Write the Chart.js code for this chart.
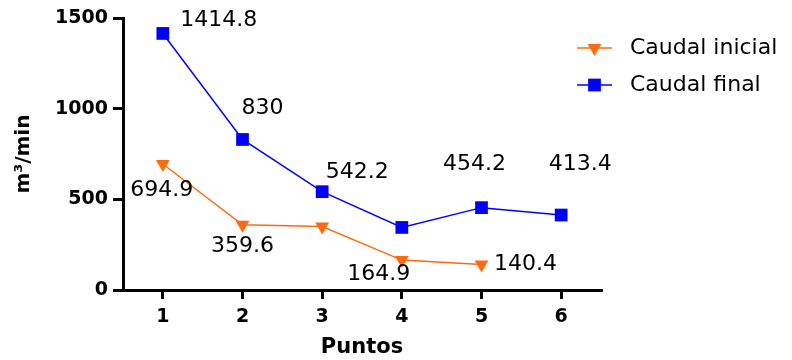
<!DOCTYPE html>
<html>
<head>
<meta charset="utf-8">
<script src="https://cdn.jsdelivr.net/npm/chart.js@4/dist/chart.umd.min.js"></script>
<style>
  html, body { margin: 0; padding: 0; background: #fff; }
  #wrap { width: 792px; height: 360px; }
</style>
</head>
<body>
<div id="wrap"><canvas id="chart" width="792" height="360"></canvas></div>
<script>
// data
const puntos = ["1", "2", "3", "4", "5", "6"];
const caudalInicial = [694.9, 359.6, 350, 164.9, 140.4, null];
const caudalFinal = [1414.8, 830, 542.2, 345, 454.2, 413.4];
const labelsInicial = ["694.9", "359.6", "", "164.9", "140.4", ""];
const labelsFinal = ["1414.8", "830", "542.2", "", "454.2", "413.4"];
const yTicks = [0, 500, 1000, 1500];

// where each value label sits relative to its point
const offsetsInicial = [[-1, 26], [0, 21], null, [-23, 14], [44, 0], null];
const offsetsFinal = [[56, -13], [20, -31], [35, -19], null, [-7, -43], [19, -51]];

const ORANGE = "#FF6A10";
const BLUE = "#0000FF";
const FONT = "'DejaVu Sans', sans-serif";

// value labels next to the markers
const valueLabels = {
  id: "valueLabels",
  afterDatasetsDraw(chart) {
    const ctx = chart.ctx;
    ctx.save();
    ctx.font = "22px " + FONT;
    ctx.fillStyle = "#000";
    ctx.textAlign = "center";
    ctx.textBaseline = "middle";
    chart.data.datasets.forEach((ds, i) => {
      const meta = chart.getDatasetMeta(i);
      meta.data.forEach((pt, j) => {
        const off = ds.labelOffsets[j];
        if (!off || !ds.valueLabels[j]) return;
        ctx.fillText(ds.valueLabels[j], pt.x + off[0], pt.y + off[1]);
      });
    });
    ctx.restore();
  },
};

// legend with a short line through the marker
const sideLegend = {
  id: "sideLegend",
  afterDraw(chart) {
    const ctx = chart.ctx;
    ctx.save();
    chart.data.datasets.forEach((ds, i) => {
      const y = 48 + i * 37;
      ctx.strokeStyle = ds.borderColor;
      ctx.lineWidth = 1.5;
      ctx.beginPath();
      ctx.moveTo(577, y);
      ctx.lineTo(612, y);
      ctx.stroke();
      ctx.fillStyle = ds.backgroundColor;
      Chart.helpers.drawPoint(ctx, {
        pointStyle: ds.pointStyle,
        radius: ds.pointRadius,
        rotation: ds.pointRotation || 0,
        borderWidth: 0,
      }, 594.5, y);
      ctx.fillStyle = "#000";
      ctx.font = "22px " + FONT;
      ctx.textBaseline = "middle";
      ctx.textAlign = "left";
      ctx.fillText(ds.label, 630, y);
    });
    ctx.restore();
  },
};

const ctx = document.getElementById("chart").getContext("2d");

new Chart(ctx, {
  type: "line",
  data: {
    labels: puntos,
    datasets: [
      {
        label: "Caudal inicial",
        data: caudalInicial,
        borderColor: ORANGE,
        backgroundColor: ORANGE,
        borderWidth: 1.5,
        pointStyle: "triangle",
        pointRotation: 180,
        pointRadius: 8,
        pointBorderWidth: 0,
        valueLabels: labelsInicial,
        labelOffsets: offsetsInicial,
      },
      {
        label: "Caudal final",
        data: caudalFinal,
        borderColor: BLUE,
        backgroundColor: BLUE,
        borderWidth: 1.5,
        pointStyle: "rect",
        pointRadius: 9,
        pointBorderWidth: 0,
        valueLabels: labelsFinal,
        labelOffsets: offsetsFinal,
      },
    ],
  },
  options: {
    responsive: false,
    animation: false,
    layout: { padding: { top: 18, right: 191, left: 0, bottom: 0 } },
    plugins: {
      legend: { display: false },
      tooltip: { enabled: false },
    },
    scales: {
      x: {
        offset: true,
        grid: {
          display: true,
          drawOnChartArea: false,
          drawTicks: true,
          tickLength: 9,
          color: "#000",
          lineWidth: 3,
          offset: false,
        },
        border: { color: "#000", width: 3 },
        ticks: {
          color: "#000",
          padding: 7,
          font: { family: FONT, size: 19, weight: "bold" },
        },
        title: {
          display: true,
          text: "Puntos",
          color: "#000",
          padding: { top: 4, bottom: 0 },
          font: { family: FONT, size: 21, weight: "bold" },
        },
        afterFit(scale) {
          scale.height = 70;
        },
      },
      y: {
        min: 0,
        max: 1500,
        afterBuildTicks(scale) {
          scale.ticks = yTicks.map((v) => ({ value: v }));
        },
        grid: {
          display: true,
          drawOnChartArea: false,
          drawTicks: true,
          tickLength: 10,
          color: "#000",
          lineWidth: 3,
        },
        border: { color: "#000", width: 3 },
        ticks: {
          color: "#000",
          padding: 5,
          font: { family: FONT, size: 19, weight: "bold" },
          callback: (v) => String(v),
        },
        title: {
          display: true,
          text: "m³/min",
          color: "#000",
          padding: { top: 12, bottom: 8 },
          font: { family: FONT, size: 20, weight: "bold" },
        },
        afterFit(scale) {
          scale.width = 123;
        },
      },
    },
  },
  plugins: [valueLabels, sideLegend],
});
</script>
</body>
</html>
